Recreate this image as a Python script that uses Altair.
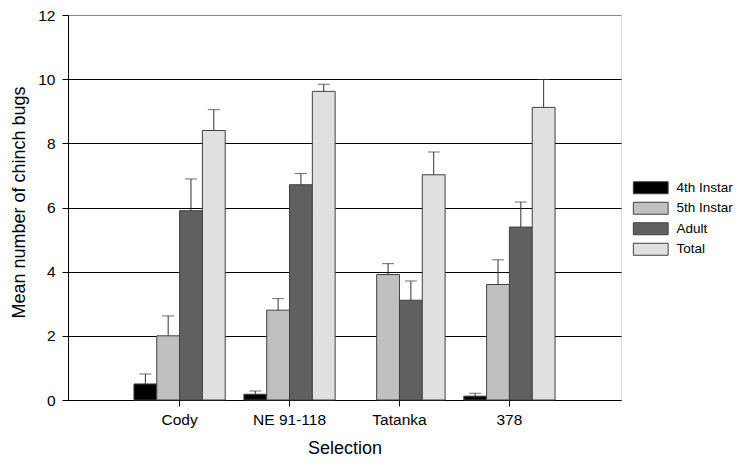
import altair as alt
import pandas as pd

selections = ["Cody", "NE 91-118", "Tatanka", "378"]
stages = ["4th Instar", "5th Instar", "Adult", "Total"]
colors = ["#000000", "#c0c0c0", "#606060", "#e0e0e0"]

# means and upper error bars (mean + SE); Tatanka has no 4th instar bar
fourth = [0.5, 0.18, None, 0.12]
fourth_err = [0.81, 0.28, None, 0.21]
fifth = [2.0, 2.8, 3.91, 3.6]
fifth_err = [2.62, 3.16, 4.25, 4.37]
adult = [5.9, 6.71, 3.11, 5.39]
adult_err = [6.89, 7.06, 3.71, 6.17]
total = [8.4, 9.62, 7.02, 9.12]
total_err = [9.05, 9.84, 7.73, 9.99]

rows = []
for means, errs, st in [(fourth, fourth_err, stages[0]), (fifth, fifth_err, stages[1]),
                        (adult, adult_err, stages[2]), (total, total_err, stages[3])]:
    for sel, m, e in zip(selections, means, errs):
        rows.append({"Selection": sel, "Stage": st, "mean": m, "upper": e})
df = pd.DataFrame(rows).dropna(subset=["mean"])
df_err = df.dropna(subset=["upper"])

font = "Liberation Sans"

x_enc = alt.X("Selection:N", sort=selections,
              scale=alt.Scale(paddingInner=0.17, paddingOuter=0.6),
              axis=alt.Axis(title="Selection", labelAngle=0, labelFontSize=15.5, titleFontSize=18,
                            titleFontWeight="normal", labelColor="black", titleColor="black",
                            domainColor="black", tickColor="black", tickSize=6, labelPadding=6,
                            titlePadding=12, labelFont=font, titleFont=font))
xo = alt.XOffset("Stage:N", sort=stages)

y_scale = alt.Scale(domain=[0, 12], nice=False)

bars = alt.Chart(df).mark_bar(stroke="#404040", strokeWidth=1).encode(
    x=x_enc,
    xOffset=xo,
    y=alt.Y("mean:Q", scale=y_scale,
            axis=alt.Axis(title="Mean number of chinch bugs", values=[0, 2, 4, 6, 8, 10, 12],
                          grid=True,
                          gridColor={"condition": {"test": "datum.value == 12", "value": "#888888"},
                                     "value": "black"},
                          gridWidth=1.2,
                          labelFontSize=15.5, titleFontSize=18, titleFontWeight="normal",
                          labelColor="black", titleColor="black", domainColor="black",
                          tickColor="black", tickSize=6, labelPadding=7, titlePadding=9,
                          titleY=187,
                          labelFont=font, titleFont=font)),
    color=alt.Color("Stage:N", sort=stages,
                    scale=alt.Scale(domain=stages, range=colors),
                    legend=alt.Legend(title=None, orient="none", legendX=576, legendY=166,
                                      symbolType="M-2.9,-1H2.9V1H-2.9Z", symbolSize=144,
                                      symbolStrokeColor="#404040", symbolStrokeWidth=1,
                                      labelFontSize=13.5, labelFont=font, labelColor="black",
                                      labelOffset=19, rowPadding=3.5, labelLimit=200)),
)

err_rule = alt.Chart(df_err).mark_rule(color="#333333", strokeWidth=1).encode(
    x=alt.X("Selection:N", sort=selections),
    xOffset=xo,
    y=alt.Y("mean:Q", scale=y_scale),
    y2="upper:Q",
)

err_cap = alt.Chart(df_err).mark_tick(color="#333333", thickness=1, size=12,
                                      orient="horizontal").encode(
    x=alt.X("Selection:N", sort=selections),
    xOffset=xo,
    y=alt.Y("upper:Q", scale=y_scale),
)

chart = alt.layer(bars, err_rule, err_cap).properties(
    width=553, height=385,
    autosize=alt.AutoSizeParams(type="none"),
    padding={"left": 60, "top": 7, "right": 114, "bottom": 57},
).configure_view(stroke=None).configure(background="white")

chart.save("out.html", embed_options={"renderer": "svg", "actions": False})
